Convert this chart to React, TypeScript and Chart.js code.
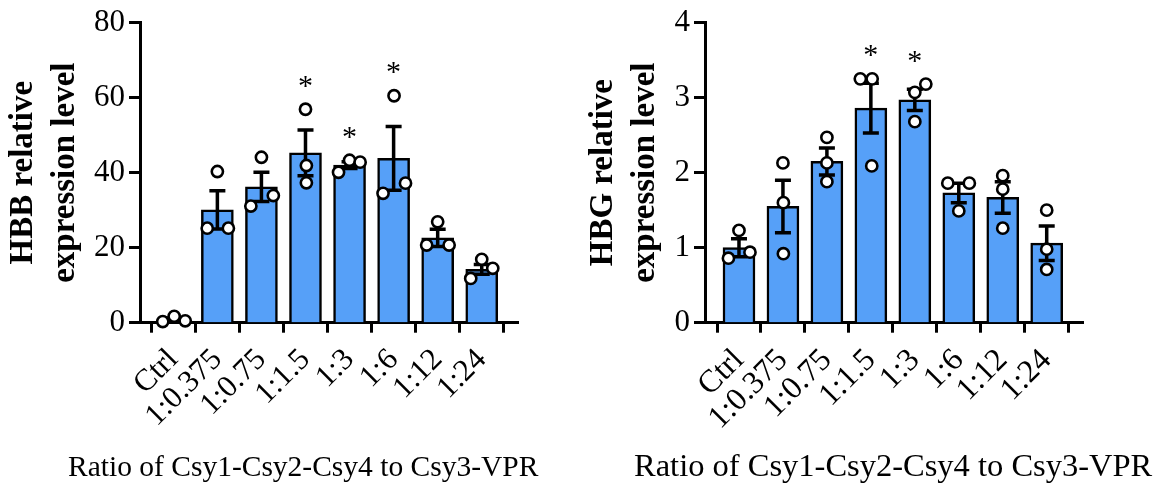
import React, { useEffect, useRef } from "react";
import { Chart, registerables } from "chart.js";

Chart.register(...registerables);

// ---------- data ----------
const categories = ["Ctrl", "1:0.375", "1:0.75", "1:1.5", "1:3", "1:6", "1:12", "1:24"];

const hbbMean = [0.85, 30.1, 36.2, 45.3, 42.0, 43.8, 22.6, 14.2];
const hbbSem = [0.4, 5.1, 3.9, 6.1, 0.9, 8.5, 2.3, 1.3];
const hbbRep1 = [0.3, 40.3, 44.1, 56.9, 40.1, 60.5, 26.9, 16.9];
const hbbRep2 = [1.7, 25.2, 31.1, 41.9, 43.3, 34.5, 20.7, 11.8];
const hbbRep3 = [0.5, 25.2, 33.9, 37.3, 42.8, 37.2, 20.7, 14.5];
const hbbJitter1 = [-0.24, 0, 0, 0, -0.25, 0.01, 0, 0];
const hbbJitter2 = [0.02, -0.23, -0.24, 0.02, 0, -0.24, -0.25, -0.25];
const hbbJitter3 = [0.27, 0.25, 0.27, 0.02, 0.24, 0.27, 0.26, 0.25];
const hbbStars = ["", "", "", "*", "*", "*", "", ""];

const hbgMean = [1.0, 1.55, 2.15, 2.86, 2.97, 1.73, 1.67, 1.06];
const hbgSem = [0.12, 0.35, 0.18, 0.33, 0.14, 0.13, 0.21, 0.23];
const hbgRep1 = [1.23, 2.13, 2.47, 3.25, 3.18, 1.86, 1.96, 1.5];
const hbgRep2 = [0.86, 1.6, 2.13, 3.25, 3.07, 1.86, 1.78, 0.98];
const hbgRep3 = [0.94, 0.92, 1.88, 2.09, 2.68, 1.49, 1.26, 0.71];
const hbgJitter1 = [0, 0, 0, -0.24, 0.25, -0.25, 0, 0];
const hbgJitter2 = [-0.24, 0.01, 0, 0.03, 0, 0.24, 0, 0];
const hbgJitter3 = [0.25, 0.01, 0, 0.02, 0, 0, 0, 0];
const hbgStars = ["", "", "", "*", "*", "", "", ""];

const yTitleHBB = ["HBB relative", "expression level"];
const yTitleHBG = ["HBG relative", "expression level"];
const xTitle = "Ratio of Csy1-Csy2-Csy4 to Csy3-VPR";

// ---------- styles ----------
const SERIF = "'Liberation Serif', 'Times New Roman', serif";
const BLUE = "#56a0f8";

type PanelProps = {
  width: number;
  left: number;
  plotLeft: number;
  plotRight: number;
  xMin: number;
  xMax: number;
  yMax: number;
  yStep: number;
  means: number[];
  sems: number[];
  reps: number[][];
  jitters: number[][];
  stars: string[];
  yTitle: string[];
  titleX: number;
  titleSize: number;
  tickSize: number;
  xTickSize: number;
};

function Panel(p: PanelProps) {
  const ref = useRef<HTMLCanvasElement | null>(null);
  useEffect(() => {
    const canvas = ref.current;
    if (!canvas) return;
    const H = 490;
    const plotTop = 22;
    const plotBottom = 322.7;

    const overlay = {
      id: "overlay",
      afterDatasetDraw(chart: any, args: any) {
        if (args.index !== 0) return;
        const ctx = chart.ctx;
        const xs = chart.scales.x;
        const ys = chart.scales.y;
        ctx.save();
        ctx.strokeStyle = "#000";
        ctx.lineWidth = 3.5;
        ctx.lineCap = "butt";
        p.means.forEach((m, i) => {
          const x = xs.getPixelForValue(i);
          const yt = ys.getPixelForValue(m + p.sems[i]);
          const yb = ys.getPixelForValue(Math.max(0, m - p.sems[i]));
          const cap = 8;
          ctx.beginPath();
          ctx.moveTo(x, yb);
          ctx.lineTo(x, yt);
          ctx.moveTo(x - cap, yt);
          ctx.lineTo(x + cap, yt);
          ctx.moveTo(x - cap, yb);
          ctx.lineTo(x + cap, yb);
          ctx.stroke();
        });
        ctx.restore();
      },
      afterDraw(chart: any) {
        const ctx = chart.ctx;
        const xs = chart.scales.x;
        const ys = chart.scales.y;
        ctx.save();
        ctx.fillStyle = "#000";
        // significance marks
        ctx.font = `30px ${SERIF}`;
        ctx.textAlign = "center";
        ctx.textBaseline = "alphabetic";
        p.stars.forEach((s, i) => {
          if (!s) return;
          const top = Math.max(p.means[i] + p.sems[i], ...p.reps.map((r) => r[i]));
          const cy = ys.getPixelForValue(top) - 28;
          const m = ctx.measureText(s);
          const base = cy + (m.actualBoundingBoxAscent - m.actualBoundingBoxDescent) / 2;
          ctx.fillText(s, xs.getPixelForValue(i), base);
        });
        // x title
        ctx.font = `${p.titleSize}px ${SERIF}`;
        ctx.textAlign = "left";
        ctx.fillText(xTitle, p.titleX, 476);
        ctx.restore();
      },
    };

    const scatterData: { x: number; y: number }[] = [];
    p.reps.forEach((r, k) => r.forEach((y, i) => scatterData.push({ x: i + p.jitters[k][i], y })));

    const chart = new Chart(canvas, {
      type: "bar",
      data: {
        datasets: [
          {
            type: "bar",
            data: p.means.map((y, i) => ({ x: i, y })) as any,
            backgroundColor: BLUE,
            borderColor: "#000",
            borderWidth: 2.5,
            barThickness: 32,
            order: 2,
          } as any,
          {
            type: "scatter",
            data: scatterData as any,
            pointRadius: 5.6,
            pointBackgroundColor: "#fff",
            pointBorderColor: "#000",
            pointBorderWidth: 2.6,
            clip: false,
            order: 1,
          } as any,
        ],
      },
      options: {
        responsive: false,
        maintainAspectRatio: false,
        animation: false,
        events: [],
        layout: { padding: { top: plotTop, right: p.width - p.plotRight, left: 0, bottom: 0 } },
        plugins: { legend: { display: false }, tooltip: { enabled: false } },
        scales: {
          x: {
            type: "linear",
            min: p.xMin,
            max: p.xMax,
            offset: false,
            afterBuildTicks: (s: any) => {
              s.ticks = categories.map((_, i) => ({ value: i }));
            },
            afterFit: (s: any) => {
              s.height = H - plotBottom;
            },
            ticks: {
              autoSkip: false,
              maxRotation: 45,
              minRotation: 45,
              padding: 9,
              color: "#000",
              font: { family: SERIF, size: p.xTickSize },
              callback: (v: any) => categories[Math.round(v)] ?? "",
            },
            grid: { drawOnChartArea: false, drawTicks: true, tickLength: 10, tickWidth: 3, tickColor: "#000" },
            border: { display: true, color: "#000", width: 3 },
          },
          y: {
            min: 0,
            max: p.yMax,
            afterFit: (s: any) => {
              s.width = p.plotLeft;
            },
            ticks: {
              stepSize: p.yStep,
              padding: 4,
              color: "#000",
              font: { family: SERIF, size: p.tickSize },
            },
            grid: { drawOnChartArea: false, drawTicks: true, tickLength: 11, tickWidth: 3, tickColor: "#000" },
            border: { display: true, color: "#000", width: 3 },
            title: {
              display: true,
              text: p.yTitle,
              color: "#000",
              font: { family: SERIF, size: 33, weight: "bold", lineHeight: 42 / 33 },
              padding: { top: 2, bottom: 0 },
            },
          },
        },
      } as any,
      plugins: [overlay],
    });
    return () => chart.destroy();
  }, []);
  return (
    <canvas
      ref={ref}
      width={p.width}
      height={490}
      style={{ position: "absolute", left: p.left, top: 0, width: p.width, height: 490 }}
    />
  );
}

export default function App() {
  return (
    <div style={{ position: "fixed", left: 0, top: 0, width: 1159, height: 490, background: "#fff" }}>
      <Panel
        width={580}
        left={0}
        plotLeft={140}
        plotRight={518}
        xMin={-0.756}
        xMax={7.823}
        yMax={80}
        yStep={20}
        means={hbbMean}
        sems={hbbSem}
        reps={[hbbRep1, hbbRep2, hbbRep3]}
        jitters={[hbbJitter1, hbbJitter2, hbbJitter3]}
        stars={hbbStars}
        yTitle={yTitleHBB}
        titleX={68}
        titleSize={29.5}
        tickSize={31}
        xTickSize={31}
      />
      <Panel
        width={579}
        left={580}
        plotLeft={125}
        plotRight={503.5}
        xMin={-0.773}
        xMax={7.837}
        yMax={4}
        yStep={1}
        means={hbgMean}
        sems={hbgSem}
        reps={[hbgRep1, hbgRep2, hbgRep3]}
        jitters={[hbgJitter1, hbgJitter2, hbgJitter3]}
        stars={hbgStars}
        yTitle={yTitleHBG}
        titleX={54}
        titleSize={32.5}
        tickSize={31}
        xTickSize={32}
      />
    </div>
  );
}
